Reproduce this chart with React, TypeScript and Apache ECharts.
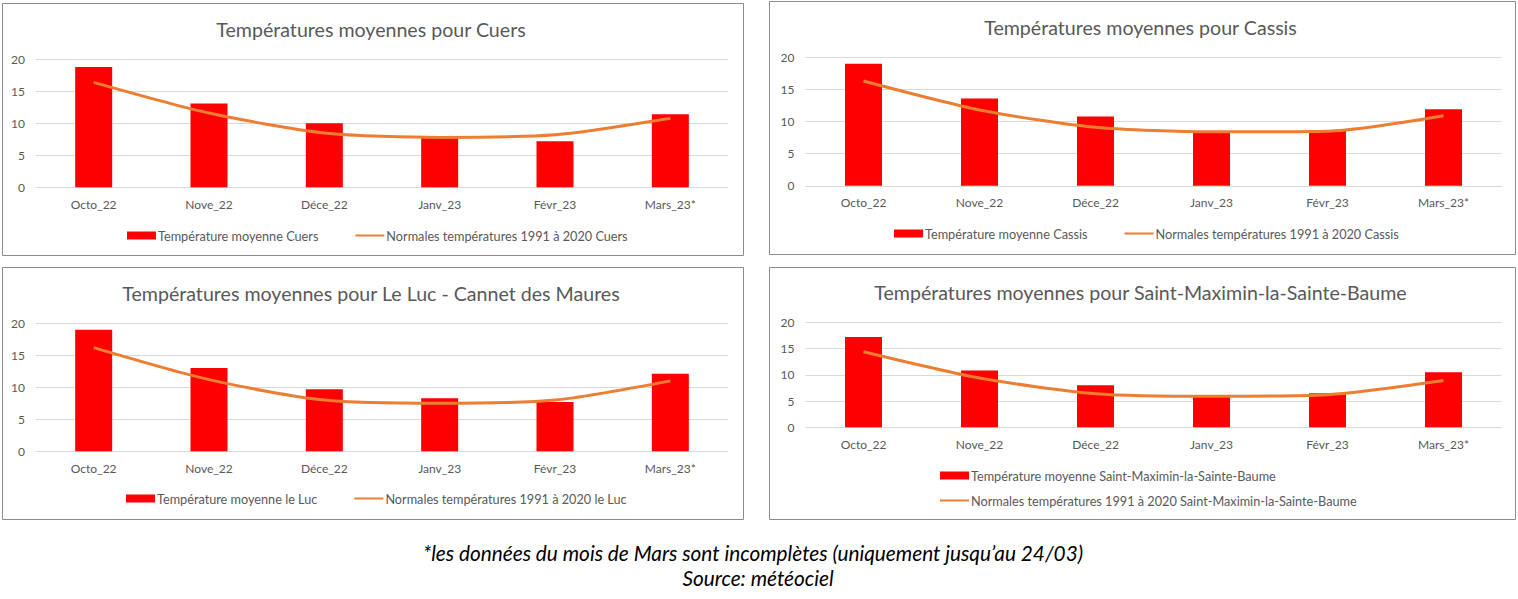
import React, { useEffect, useRef } from "react";
import * as echarts from "echarts";

const categories = ["Octo_22", "Nove_22", "Déce_22", "Janv_23", "Févr_23", "Mars_23*"];
const yTicks = [0, 5, 10, 15, 20];

const cuersTemp = [18.8, 13.1, 10.0, 7.8, 7.2, 11.4];
const cuersNorm = [16.4, 11.6, 8.5, 7.8, 8.2, 10.8];
const cassisTemp = [19.0, 13.6, 10.8, 8.5, 8.7, 11.9];
const cassisNorm = [16.3, 11.8, 9.1, 8.4, 8.5, 10.9];
const lucTemp = [19.0, 13.0, 9.7, 8.3, 7.7, 12.1];
const lucNorm = [16.2, 11.2, 8.0, 7.5, 8.0, 11.0];
const smTemp = [17.2, 10.8, 8.0, 5.9, 6.5, 10.5];
const smNorm = [14.4, 9.4, 6.4, 5.9, 6.2, 8.9];

const titles = [
  "Températures moyennes pour Cuers",
  "Températures moyennes pour Cassis",
  "Températures moyennes pour Le Luc - Cannet des Maures",
  "Températures moyennes pour Saint-Maximin-la-Sainte-Baume",
];
const barNames = [
  "Température moyenne Cuers",
  "Température moyenne Cassis",
  "Température moyenne le Luc",
  "Température moyenne Saint-Maximin-la-Sainte-Baume",
];
const lineNames = [
  "Normales températures 1991 à 2020 Cuers",
  "Normales températures 1991 à 2020 Cassis",
  "Normales températures 1991 à 2020 le Luc",
  "Normales températures 1991 à 2020 Saint-Maximin-la-Sainte-Baume",
];
const footnote1 = "*les données du mois de Mars sont incomplètes (uniquement jusqu’au 24/03)";
const footnote2 = "Source: météociel";

const FONT = "Lato, 'Open Sans', sans-serif";
const GREY = "#595959";

export default function App() {
  const ref = useRef<HTMLDivElement>(null);
  useEffect(() => {
    if (!ref.current) return;
    const chart = echarts.init(ref.current, undefined, { renderer: "svg" });

    const temps = [cuersTemp, cassisTemp, lucTemp, smTemp];
    const norms = [cuersNorm, cassisNorm, lucNorm, smNorm];

    const panels = [
      { box: [2.5, 3.5, 741, 252], grid: { left: 36, top: 59.3, width: 692, height: 128 }, titleY: 29, legend: { left: 127, top: 229, orient: "horizontal" } },
      { box: [769.5, 1.5, 746, 253], grid: { left: 805.5, top: 57.3, width: 696, height: 128.5 }, titleY: 27, legend: { left: 894, top: 227, orient: "horizontal" } },
      { box: [2.5, 267.5, 741, 252], grid: { left: 36, top: 323.3, width: 692, height: 128 }, titleY: 293, legend: { left: 126, top: 492, orient: "horizontal" } },
      { box: [769.5, 267.5, 746, 252], grid: { left: 805.5, top: 322.3, width: 696, height: 105 }, titleY: 292.5, legend: { left: 939, top: 469, orient: "vertical" } },
    ];

    const grid = panels.map((p) => ({ ...p.grid, containLabel: false }));
    const xAxis = panels.map((_, i) => ({
      type: "category",
      gridIndex: i,
      data: categories,
      axisTick: { show: false },
      axisLine: { show: true, lineStyle: { color: "#d9d9d9", width: 1 } },
      axisLabel: { color: GREY, fontSize: 12, fontFamily: FONT, margin: 11 },
    }));
    const yAxis = panels.map((_, i) => ({
      type: "value",
      gridIndex: i,
      min: yTicks[0],
      max: yTicks[yTicks.length - 1],
      interval: 5,
      axisLine: { show: false },
      axisTick: { show: false },
      splitLine: { lineStyle: { color: "#d9d9d9", width: 1 } },
      axisLabel: { color: GREY, fontSize: 12, fontFamily: FONT, margin: 11 },
    }));
    const series: any[] = [];
    panels.forEach((_, i) => {
      series.push({
        type: "bar",
        name: barNames[i],
        xAxisIndex: i,
        yAxisIndex: i,
        data: temps[i],
        barWidth: 37,
        itemStyle: { color: "#ff0000" },
      });
      series.push({
        type: "line",
        name: lineNames[i],
        xAxisIndex: i,
        yAxisIndex: i,
        data: norms[i],
        smooth: 0.25,
        symbol: "none",
        showSymbol: false,
        lineStyle: { color: "#ed7d31", width: 3 },
        itemStyle: { color: "#ed7d31" },
      });
    });
    const legend = panels.map((p, i) => ({
      left: p.legend.left,
      top: p.legend.top,
      orient: p.legend.orient,
      padding: 0,
      itemWidth: 29,
      itemHeight: 8,
      itemGap: p.legend.orient === "vertical" ? 12 : 36,
      selectedMode: false,
      textStyle: { color: GREY, fontSize: 12.7, fontFamily: FONT, padding: [0, 0, 0, -3] },
      data: [
        { name: barNames[i], icon: "rect" },
        { name: lineNames[i], itemStyle: { opacity: 0, color: "rgba(0,0,0,0)", borderWidth: 0 } },
      ],
    }));

    const graphic: any[] = [];
    panels.forEach((p, i) => {
      graphic.push({
        type: "rect",
        shape: { x: p.box[0], y: p.box[1], width: p.box[2], height: p.box[3] },
        style: { fill: "none", stroke: "#8c8c8c", lineWidth: 1 },
        silent: true,
      });
      graphic.push({
        type: "text",
        x: p.box[0] + p.box[2] / 2 - 2,
        y: p.titleY,
        style: {
          text: titles[i],
          fill: GREY,
          font: `19.6px ${FONT}`,
          textAlign: "center",
          textVerticalAlign: "middle",
        },
      });
    });
    graphic.push({
      type: "text",
      x: 753,
      y: 552,
      style: { text: footnote1, fill: "#000000", font: `italic 20.8px ${FONT}`, textAlign: "center", textVerticalAlign: "middle" },
    });
    graphic.push({
      type: "text",
      x: 758,
      y: 577,
      style: { text: footnote2, fill: "#000000", font: `italic 20.8px ${FONT}`, textAlign: "center", textVerticalAlign: "middle" },
    });

    chart.setOption({
      animation: false,
      backgroundColor: "#ffffff",
      grid,
      xAxis,
      yAxis,
      series,
      legend,
      graphic,
    });
    return () => chart.dispose();
  }, []);
  return (
    <div
      ref={ref}
      style={{ position: "absolute", left: 0, top: 0, width: 1518, height: 599, background: "#fff" }}
    />
  );
}
